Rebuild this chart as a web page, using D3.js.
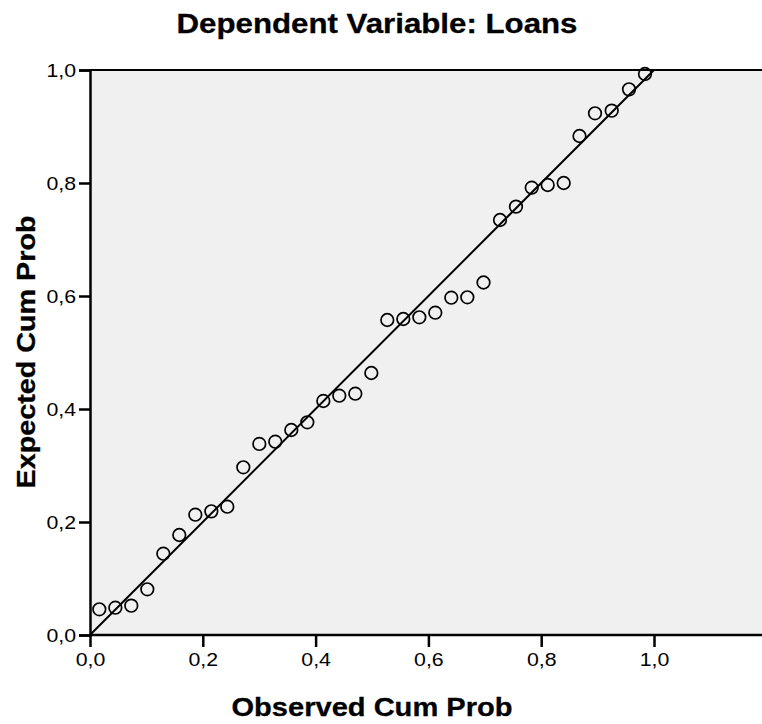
<!DOCTYPE html>
<html>
<head>
<meta charset="utf-8">
<script src="https://cdn.jsdelivr.net/npm/d3@7"></script>
<style>
  body { margin: 0; background: #fff; }
  text { font-family: "Liberation Sans", Arial, sans-serif; }
</style>
</head>
<body>
<svg id="chart" width="762" height="724"></svg>
<script>
'use strict';

var observed = [0.0165, 0.0449, 0.0732, 0.1016, 0.1300, 0.1583, 0.1867, 0.2151, 0.2434,
  0.2718, 0.3002, 0.3285, 0.3569, 0.3853, 0.4137, 0.4420, 0.4704, 0.4988, 0.5271,
  0.5555, 0.5839, 0.6122, 0.6406, 0.6690, 0.6977, 0.7270, 0.7553, 0.7832, 0.8115,
  0.8399, 0.8679, 0.8954, 0.9250, 0.9557, 0.9840];
var expected = [0.0455, 0.0483, 0.0519, 0.0809, 0.1439, 0.1770, 0.2129, 0.2189, 0.2271,
  0.2968, 0.3381, 0.3421, 0.3628, 0.3765, 0.4142, 0.4235, 0.4271, 0.4637, 0.5575,
  0.5593, 0.5623, 0.5704, 0.5970, 0.5977, 0.6239, 0.7345, 0.7581, 0.7917, 0.7965,
  0.8000, 0.8832, 0.9234, 0.9280, 0.9658, 0.9929];
var xTicks = [0, 0.2, 0.4, 0.6, 0.8, 1.0];
var yTicks = [0, 0.2, 0.4, 0.6, 0.8, 1.0];
var refLine = [0, 1];

var svg = d3.select("#chart");
var plot = {left: 90, right: 770, top: 70, bottom: 635};

var x = d3.scaleLinear().domain([0, 1]).range([plot.left, 654]);
var y = d3.scaleLinear().domain([0, 1]).range([plot.bottom, plot.top]);
var fmt = function(d) { return d3.format(".1f")(d).replace(".", ","); };

// the original font runs a bit wider than Liberation Sans
function widen(sel, k) {
  sel.each(function() {
    var len = this.getComputedTextLength();
    d3.select(this).attr("textLength", len * k).attr("lengthAdjust", "spacingAndGlyphs");
  });
}
function fitTo(sel, w) {
  sel.attr("textLength", w).attr("lengthAdjust", "spacingAndGlyphs");
}

svg.append("text")
  .attr("x", 377).attr("y", 33)
  .attr("text-anchor", "middle")
  .style("font-size", "27px").style("font-weight", "bold")
  .style("stroke", "#000").style("stroke-width", 0.3)
  .text("Dependent Variable: Loans")
  .call(fitTo, 401);

svg.append("rect")
  .attr("x", plot.left).attr("y", plot.top)
  .attr("width", plot.right - plot.left).attr("height", plot.bottom - plot.top)
  .style("fill", "#f0f0f0");

svg.append("clipPath").attr("id", "clip")
  .append("rect")
  .attr("x", plot.left).attr("y", plot.top)
  .attr("width", plot.right - plot.left).attr("height", plot.bottom - plot.top);

// reference diagonal
svg.append("line")
  .attr("clip-path", "url(#clip)")
  .attr("x1", x(refLine[0])).attr("y1", y(refLine[0]))
  .attr("x2", x(refLine[1])).attr("y2", y(refLine[1]))
  .style("stroke", "#000").style("stroke-width", 2);

svg.append("g").selectAll("circle")
  .data(observed)
  .enter().append("circle")
  .attr("cx", function(d) { return x(d); })
  .attr("cy", function(d, i) { return y(expected[i]); })
  .attr("r", 6.3)
  .style("fill", "none").style("stroke", "#000").style("stroke-width", 1.7);

// top edge of the frame
svg.append("line")
  .attr("x1", plot.left).attr("x2", plot.right).attr("y1", plot.top).attr("y2", plot.top)
  .style("stroke", "#000").style("stroke-width", 2);

var xAxis = svg.append("g")
  .attr("transform", "translate(0," + plot.bottom + ")")
  .call(d3.axisBottom(x).tickValues(xTicks).tickFormat(fmt).tickSize(12).tickPadding(6));
xAxis.select(".domain").attr("d", "M" + plot.left + ",0H" + plot.right);

var yAxis = svg.append("g")
  .attr("transform", "translate(" + plot.left + ",0)")
  .call(d3.axisLeft(y).tickValues(yTicks).tickFormat(fmt).tickSize(11).tickPadding(3));

[xAxis, yAxis].forEach(function(a) {
  a.select(".domain").style("stroke", "#000").style("stroke-width", 2.5);
  a.selectAll(".tick line").style("stroke", "#000").style("stroke-width", 2.5);
  a.selectAll(".tick text")
    .style("font-family", "'Liberation Sans', Arial, sans-serif")
    .style("font-size", "19px").style("fill", "#000")
    .call(widen, 1.12);
});

svg.append("text")
  .attr("x", 372).attr("y", 716)
  .attr("text-anchor", "middle")
  .style("font-size", "26px").style("font-weight", "bold")
  .style("stroke", "#000").style("stroke-width", 0.3)
  .text("Observed Cum Prob")
  .call(fitTo, 281);

svg.append("text")
  .attr("transform", "translate(35,352) rotate(-90)")
  .attr("text-anchor", "middle")
  .style("font-size", "26px").style("font-weight", "bold")
  .style("stroke", "#000").style("stroke-width", 0.3)
  .text("Expected Cum Prob")
  .call(fitTo, 273);
</script>
</body>
</html>
